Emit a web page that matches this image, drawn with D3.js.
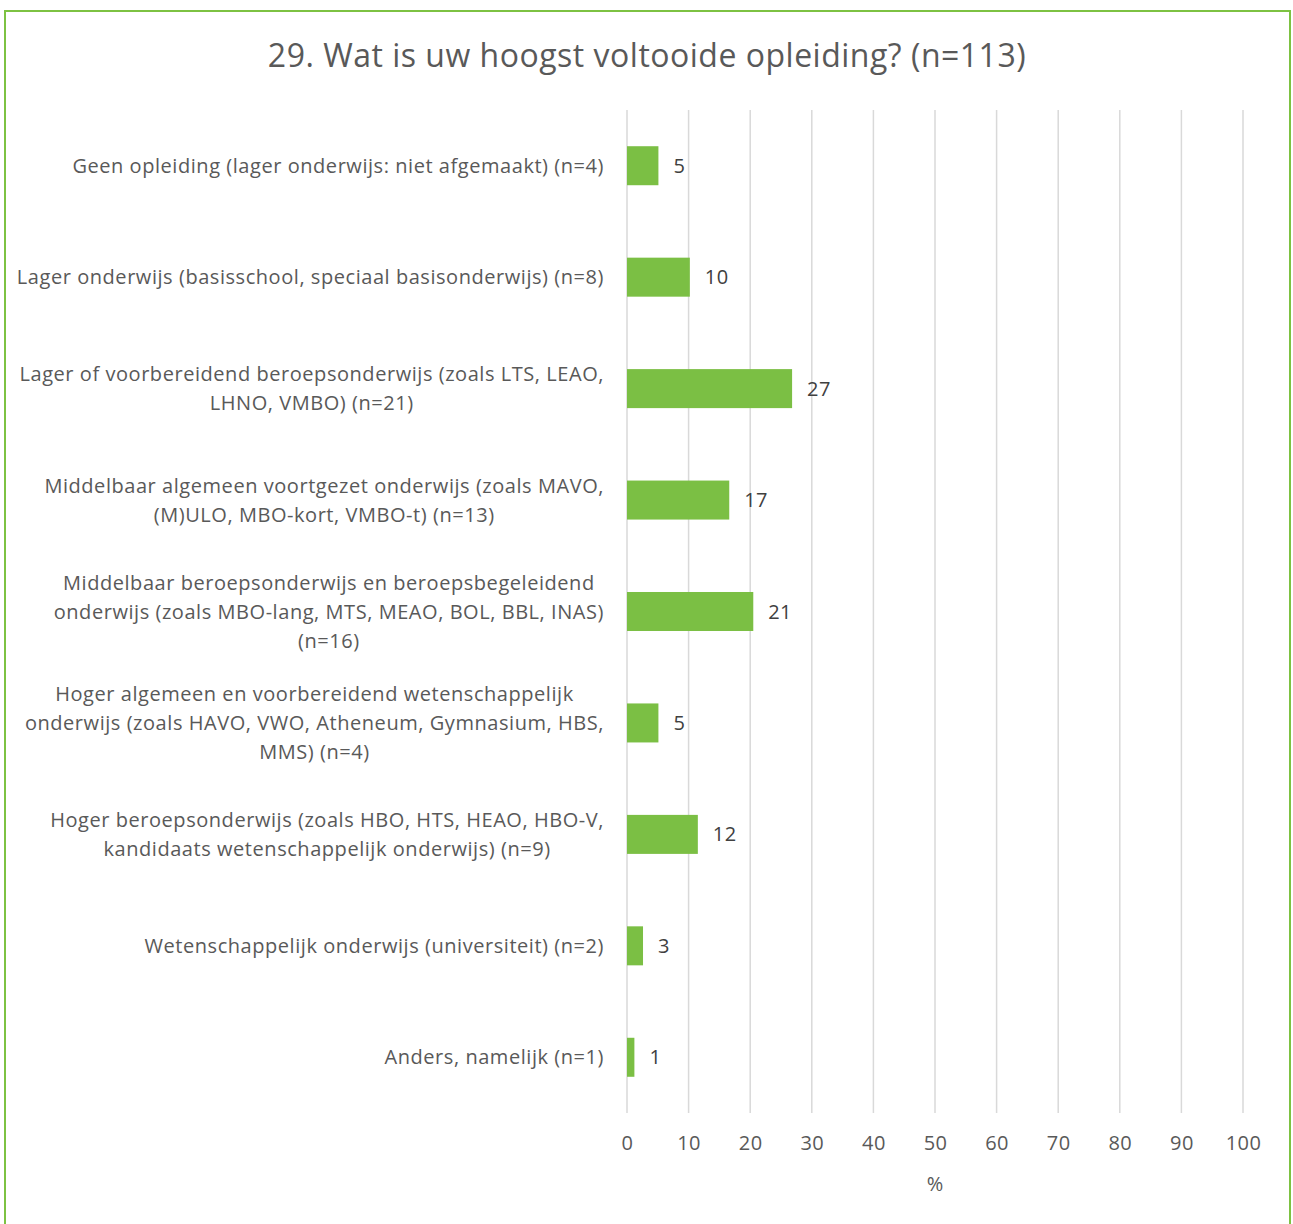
<!DOCTYPE html>
<html>
<head>
<meta charset="utf-8">
<script src="https://cdn.jsdelivr.net/npm/d3@7"></script>
<style>
  body { margin: 0; background: #fff; }
  svg { display: block; font-family: "Open Sans", "Noto Sans", sans-serif; }
</style>
</head>
<body>
<div id="wrapper"></div>
<script>
// categories (line breaks as in the picture) and their percentages
const categories = [
    "Geen opleiding (lager onderwijs: niet afgemaakt) (n=4)",
    "Lager onderwijs (basisschool, speciaal basisonderwijs) (n=8)",
    "Lager of voorbereidend beroepsonderwijs (zoals LTS, LEAO,\nLHNO, VMBO) (n=21)",
    "Middelbaar algemeen voortgezet onderwijs (zoals MAVO,\n(M)ULO, MBO-kort, VMBO-t) (n=13)",
    "Middelbaar beroepsonderwijs en beroepsbegeleidend\nonderwijs (zoals MBO-lang, MTS, MEAO, BOL, BBL, INAS)\n(n=16)",
    "Hoger algemeen en voorbereidend wetenschappelijk\nonderwijs (zoals HAVO, VWO, Atheneum, Gymnasium, HBS,\nMMS) (n=4)",
    "Hoger beroepsonderwijs (zoals HBO, HTS, HEAO, HBO-V,\nkandidaats wetenschappelijk onderwijs) (n=9)",
    "Wetenschappelijk onderwijs (universiteit) (n=2)",
    "Anders, namelijk (n=1)"
];
const values = [5.1, 10.2, 26.8, 16.6, 20.5, 5.1, 11.5, 2.6, 1.2];
const xTicks = [0, 10, 20, 30, 40, 50, 60, 70, 80, 90, 100];

const title = "29. Wat is uw hoogst voltooide opleiding? (n=113)";
const xTitle = "%";

const dimension = {
    width: 1293,
    height: 1224,
    margin: { top: 110, left: 627, bottom: 111, right: 50 }
};
dimension.boundedWidth = dimension.width - dimension.margin.left - dimension.margin.right;
dimension.boundedHeight = dimension.height - dimension.margin.top - dimension.margin.bottom;

const svg = d3.select("#wrapper").append("svg")
    .attr("width", dimension.width)
    .attr("height", dimension.height);

// green frame
svg.append("rect")
    .attr("x", 5).attr("y", 11)
    .attr("width", 1285).attr("height", 1230)
    .attr("fill", "none")
    .attr("stroke", "#7dc242")
    .attr("stroke-width", 2);

svg.append("text")
    .attr("x", 647).attr("y", 67)
    .attr("text-anchor", "middle")
    .attr("font-size", 32)
    .attr("letter-spacing", 0.5)
    .attr("fill", "#595959")
    .text(title);

const bounds = svg.append("g")
    .attr("transform", `translate(${dimension.margin.left},${dimension.margin.top})`);

const xScaler = d3.scaleLinear()
    .domain([0, 100])
    .range([0, dimension.boundedWidth]);

const yScaler = d3.scaleBand()
    .domain(categories)
    .range([0, dimension.boundedHeight])
    .paddingInner(0.65)
    .paddingOuter(0.325);

// vertical gridlines
bounds.append("g")
    .selectAll("line")
    .data(xTicks)
    .join("line")
    .attr("x1", d => xScaler(d)).attr("x2", d => xScaler(d))
    .attr("y1", 0).attr("y2", dimension.boundedHeight)
    .attr("stroke", "#d9d9d9")
    .attr("stroke-width", 1.5);

// x axis tick labels
const xAxis = bounds.append("g")
    .attr("transform", `translate(0,${dimension.boundedHeight})`)
    .call(d3.axisBottom(xScaler).tickValues(xTicks).tickSize(0).tickPadding(23));
xAxis.select(".domain").remove();
xAxis.selectAll("text")
    .attr("font-size", 20)
    .attr("letter-spacing", 0.4)
    .attr("font-family", "Open Sans, Noto Sans, sans-serif")
    .attr("fill", "#595959");

bounds.append("text")
    .attr("x", xScaler(50)).attr("y", dimension.boundedHeight + 78)
    .attr("text-anchor", "middle")
    .attr("font-size", 20)
    .attr("fill", "#595959")
    .text(xTitle);

// bars
bounds.append("g")
    .selectAll("rect")
    .data(values)
    .join("rect")
    .attr("x", xScaler(0))
    .attr("y", (d, i) => yScaler(categories[i]))
    .attr("width", d => xScaler(d) - xScaler(0))
    .attr("height", yScaler.bandwidth())
    .attr("fill", "#7bbf44");

// value labels
bounds.append("g")
    .selectAll("text")
    .data(values)
    .join("text")
    .attr("x", d => xScaler(d) + 15)
    .attr("y", (d, i) => yScaler(categories[i]) + yScaler.bandwidth() / 2)
    .attr("dy", "0.35em")
    .attr("font-size", 20)
    .attr("letter-spacing", 0.4)
    .attr("fill", "#404040")
    .text(d => Math.round(d));

// category labels: block right-aligned to the axis, lines centred in the block
const lineHeight = 29;
const labelRight = -23;
const labelGroup = bounds.append("g");
categories.forEach(cat => {
    const lines = cat.split("\n");
    const g = labelGroup.append("g");
    const texts = g.selectAll("text")
        .data(lines)
        .join("text")
        .attr("font-size", 20)
        .attr("letter-spacing", 0.55)
        .attr("fill", "#595959")
        .attr("text-anchor", "middle")
        .attr("dy", "0.35em")
        .text(d => d);
    let maxW = 0;
    texts.each(function() { maxW = Math.max(maxW, this.getComputedTextLength()); });
    const cx = labelRight - maxW / 2;
    const cy = yScaler(cat) + yScaler.bandwidth() / 2;
    texts
        .attr("x", cx)
        .attr("y", (d, i) => cy + (i - (lines.length - 1) / 2) * lineHeight);
});
</script>
</body>
</html>
